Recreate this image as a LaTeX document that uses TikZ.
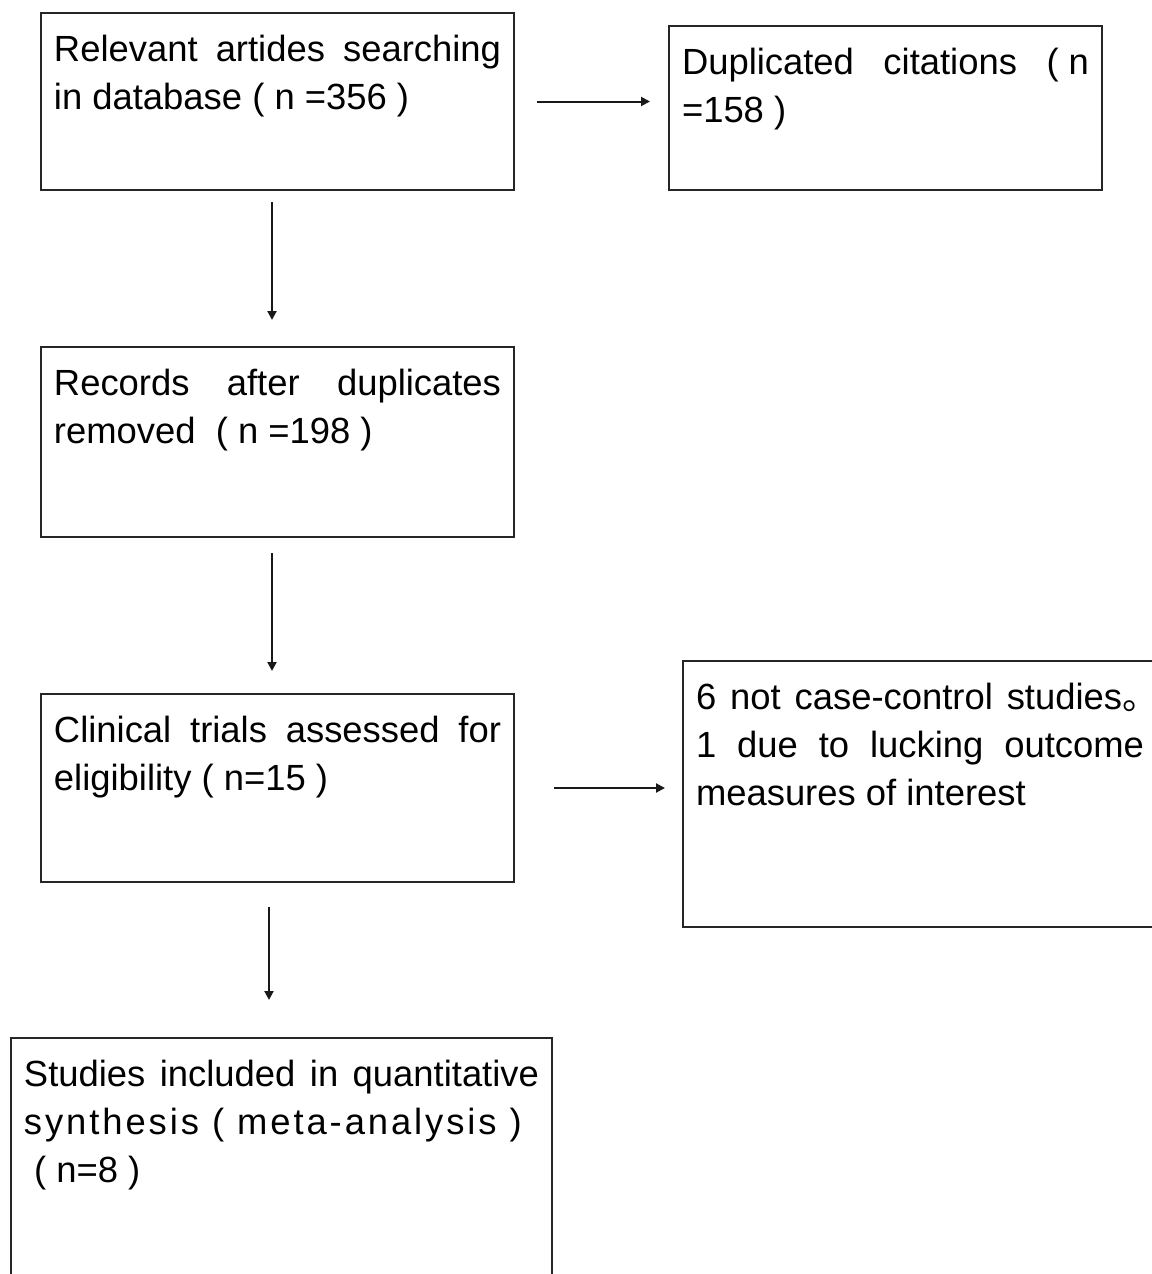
\documentclass[tikz,border=0pt]{standalone}
\usepackage{fontspec}
\setmainfont{Liberation Sans}
\newfontfamily\cjkfont{Noto Sans CJK SC}
\usetikzlibrary{arrows.meta}
\newlength\px
\setlength\px{0.5pt}
\newcommand\fullline[1]{\makebox[\linewidth][s]{#1}\par}
\newcommand\boxtext[3]{\parbox[t][#2\px][t]{#1\px}{#3}}
\tikzset{
	flow box/.style={draw=black!85, line width=1pt, anchor=north west, inner xsep=13\px, inner ysep=22\px},
	flow arrow/.style={-{Triangle[length=4.5pt,width=4.5pt]}, line width=1pt, black!90},
	every node/.style={font=\fontsize{18.2}{24}\selectfont}
}
\begin{document}
\begin{tikzpicture}[x=0.5pt, y=-0.5pt]
\useasboundingbox (0,0) rectangle (1151,1274);
% boxes
\node [flow box] (search) at (40,12) {\boxtext{447}{133}{\fullline{Relevant artides searching}in database ( n =356 )}};
\node [flow box] (dup) at (668,25) {\boxtext{407}{120}{\fullline{Duplicated citations \mbox{(\hspace{5pt}n}}=158 )}};
\node [flow box] (records) at (40,346) {\boxtext{447}{146}{\fullline{Records after duplicates}removed\ \ ( n =198 )}};
\node [flow box] (assess) at (40,693) {\boxtext{447}{144}{\fullline{Clinical trials assessed for}eligibility ( n=15 )}};
\node [flow box] (excl) at (682,660) {\boxtext{448}{222}{\fullline{6 not case-control studies\makebox[0.6em][l]{\cjkfont 。}}\fullline{1 due to lucking outcome}measures of interest}};
\node [flow box] (incl) at (10,1037) {\boxtext{515}{216}{\fullline{Studies included in quantitative}{\addfontfeature{LetterSpace=8}synthesis ( meta-analysis )}\par\ ( n=8 )}};

% side arrows
\draw [flow arrow, shorten <=22\px, shorten >=18\px] (search.east) -- (search.east -| dup.west);
\draw [flow arrow, shorten <=39\px, shorten >=17\px] (assess.east) -- (assess.east -| excl.west);

% down arrows
\foreach \a/\b/\s/\e/\dx in {search/records/11/26/-5.5, records/assess/15/22/-5.5, assess/incl/24/37/-8.5}
	\draw [flow arrow, shorten <=\s\px, shorten >=\e\px] ([xshift=\dx\px]\a.south) -- ([xshift=\dx\px]\a.south |- \b.north);

\end{tikzpicture}
\end{document}
